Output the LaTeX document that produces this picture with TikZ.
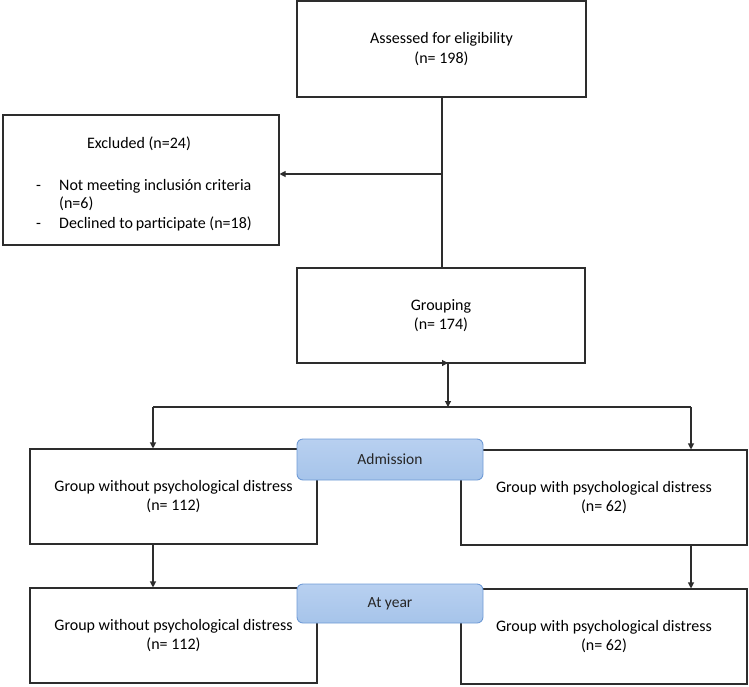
\documentclass[tikz,border=0pt]{standalone}
\usepackage{fontspec}
\setmainfont{Carlito}
\usetikzlibrary{arrows.meta}
\definecolor{linegray}{RGB}{45,45,45}
\definecolor{pillfill}{RGB}{166,196,234}
\definecolor{pilltop}{RGB}{184,208,240}
\definecolor{pillline}{RGB}{112,155,214}

\begin{document}
\begin{tikzpicture}[x=1pt, y=-1pt,
        box/.style={draw=linegray, line width=1.1pt, inner sep=0pt, align=center,
                    font=\fontsize{16}{19.5}\selectfont},
        pill/.style={draw=pillline, line width=0.9pt, rounded corners=6pt,
                     top color=pilltop, bottom color=pillfill, inner sep=0pt,
                     font=\fontsize{15.5}{18}\selectfont\color{black!85}},
        txt/.style={inner sep=0pt, anchor=base west, font=\fontsize{16}{19}\selectfont},
        arr/.style={draw=linegray, line width=1.1pt, -{Triangle[width=6pt,length=6pt]}},
        ln/.style={draw=linegray, line width=1.1pt}]
        \useasboundingbox (0,0) rectangle (749,686);

        % Boxes
        \node[box, minimum width=289pt, minimum height=96pt] (assess) at (441.5,49)
            {Assessed for eligibility\\(n= 198)};
        \node[box, minimum width=276pt, minimum height=130pt] (excl) at (141,180) {};
        \node[box, minimum width=288pt, minimum height=95pt] (group) at (441,315.5)
            {Grouping\\(n= 174)};
        \node[box, minimum width=287pt, minimum height=95pt] (noadm) at (173.5,496.5)
            {Group without psychological distress\\(n= 112)};
        \node[box, minimum width=286pt, minimum height=95pt] (yesadm) at (604,497.5)
            {Group with psychological distress\\(n= 62)};
        \node[box, minimum width=287pt, minimum height=95pt] (noyear) at (173.5,635.5)
            {Group without psychological distress\\(n= 112)};
        \node[box, minimum width=286pt, minimum height=95pt] (yesyear) at (604,636.5)
            {Group with psychological distress\\(n= 62)};

        % Excluded text
        \node[txt, anchor=base] (exclT) at (139,148) {Excluded (n=24)};
        \node[txt] (dashA) at (36,190) {-};
        \node[txt] (itemA) at (59,190) {Not meeting inclusión criteria};
        \node[txt] (itemAb) at (59,208) {(n=6)};
        \node[txt] (dashB) at (36,228) {-};
        \node[txt] (itemB) at (59,228) {Declined to\,participate (n=18)};

        % Connectors
        \coordinate (fork) at (442,174);
        \coordinate (gdrop) at (448,363);
        \coordinate (split) at (448,407);
        \coordinate (splitL) at (153,407);
        \coordinate (splitR) at (691,407);
        \draw[ln] (assess.south -| fork) -- (group.north -| fork);
        \draw[arr] (fork) -- (excl.east |- fork);
        \draw[arr] ([xshift=-14pt]gdrop) -- (gdrop);
        \draw[arr] (gdrop) -- (split);
        \draw[ln] (splitL) -- (splitR);
        \draw[arr] (splitL) -- (noadm.north -| splitL);
        \draw[arr] (splitR) -- (yesadm.north -| splitR);
        \draw[arr] (noadm.south -| splitL) -- (noyear.north -| splitL);
        \draw[arr] (yesadm.south -| splitR) -- (yesyear.north -| splitR);

        % Labels on top
        \node[pill, minimum width=186pt, minimum height=41pt] (adm) at (390,459.5) {Admission};
        \node[pill, minimum width=186pt, minimum height=39pt] (year) at (390,603.5) {At year};
    \end{tikzpicture}
\end{document}
